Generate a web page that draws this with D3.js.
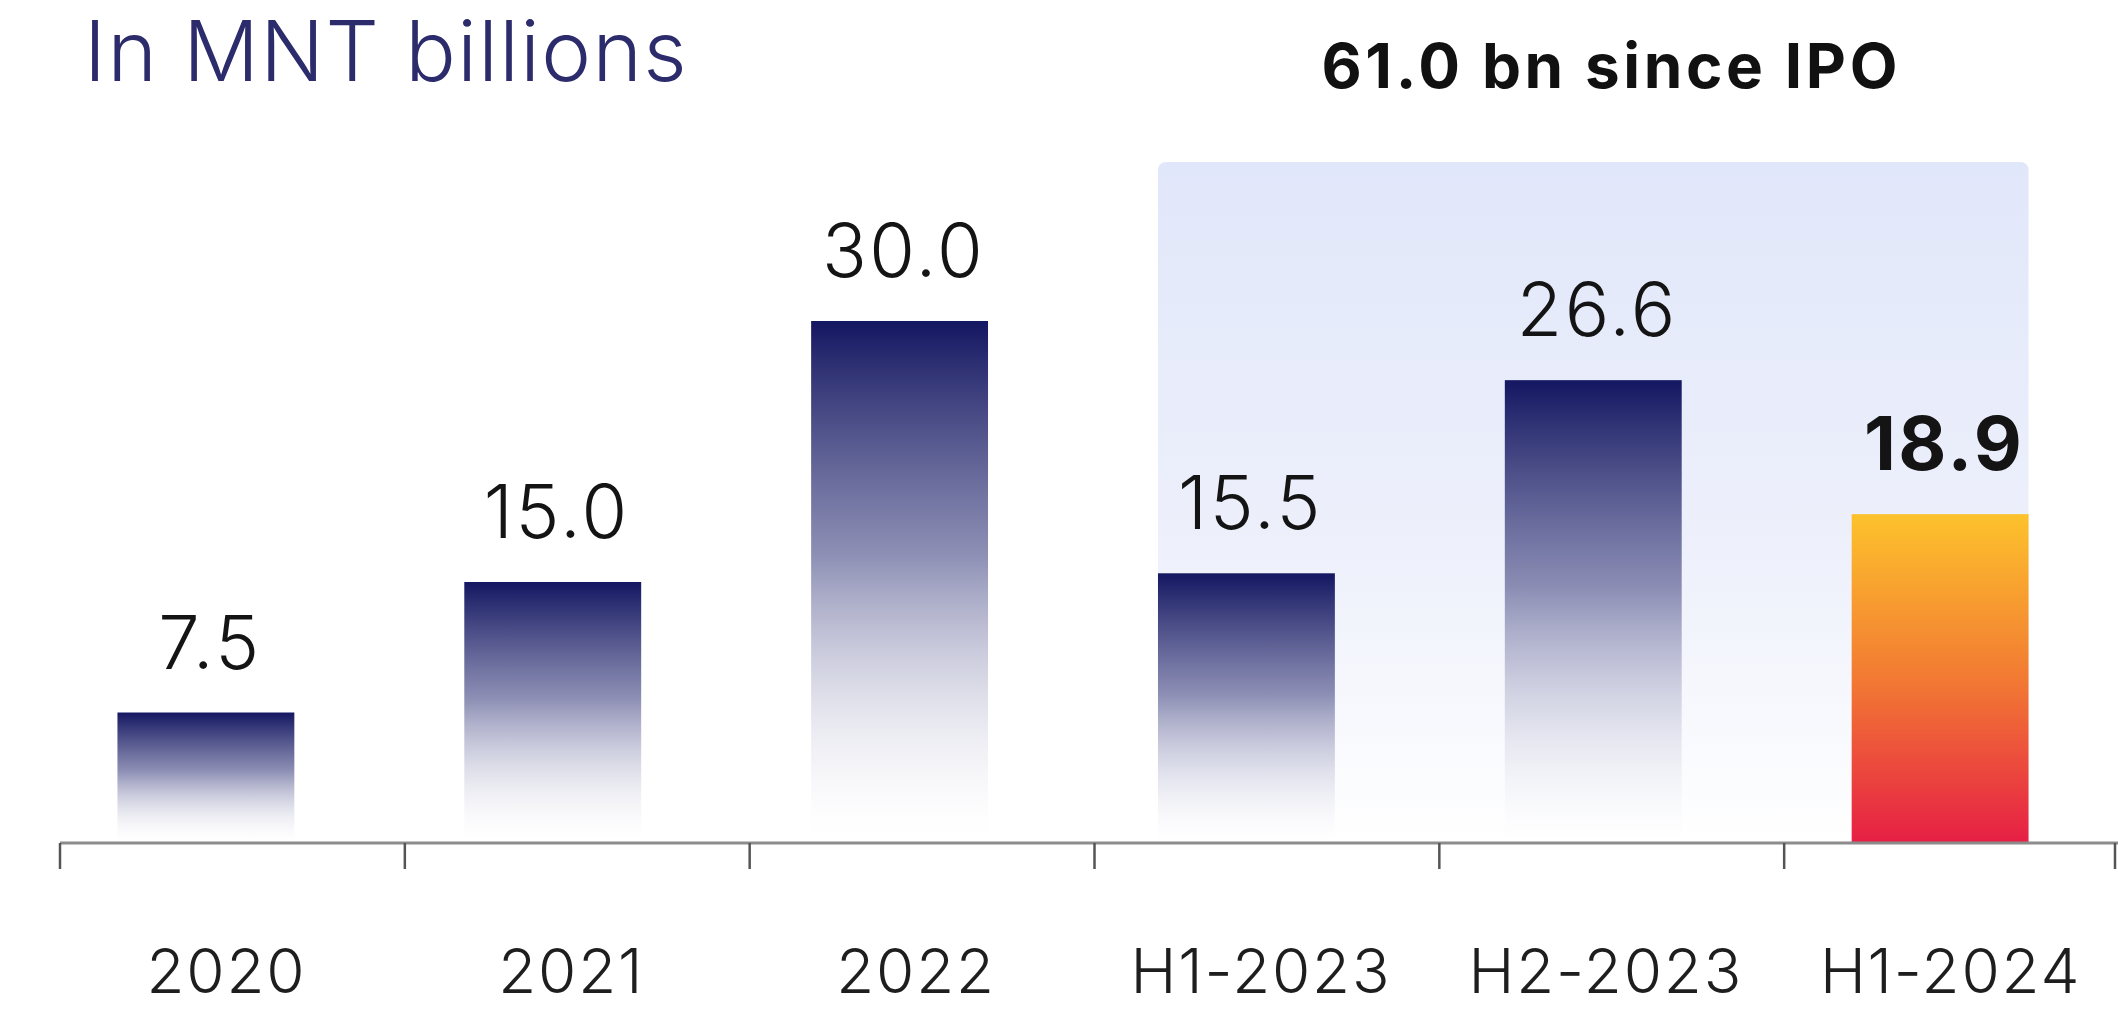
<!DOCTYPE html>
<html>
<head>
<meta charset="utf-8">
<script src="https://cdn.jsdelivr.net/npm/d3@7/dist/d3.min.js"></script>
<style>
    body { margin: 0; background: #ffffff; }
    svg { display: block; font-family: Inter, "Noto Sans", sans-serif; }
</style>
</head>
<body>
<svg id="mainSvg" width="2118" height="1014"></svg>
<script>
let svg = d3.select('#mainSvg');
let width = +svg.attr('width'), height = +svg.attr('height');

// data
const categories = ["2020", "2021", "2022", "H1-2023", "H2-2023", "H1-2024"];
const values = [7.5, 15.0, 30.0, 15.5, 26.6, 18.9];
const labels = ["7.5", "15.0", "30.0", "15.5", "26.6", "18.9"];
const highlighted = ["H1-2024"];
const sinceIpo = ["H1-2023", "H1-2024"];   // first and last period in the shaded box
const titleText = "In MNT billions";
const ipoText = "61.0 bn since IPO";

const baseY = 843;

const x = d3.scaleBand()          // bars
    .domain(categories)
    .range([29, 2117])
    .paddingInner(0.49)
    .paddingOuter(0.255);

const xAxisScale = d3.scaleBand() // axis ticks and labels
    .domain(categories)
    .range([60, 2129]);

const y = d3.scaleLinear()
    .domain([0, 30])
    .range([baseY, 321]);

/**
 * gradients
 */
const defs = svg.append("defs");
const navy = defs.append("linearGradient")
    .attr("id", "navyGrad")
    .attr("x1", 0).attr("y1", 0).attr("x2", 0).attr("y2", 1);
navy.append("stop").attr("offset", "0%").attr("stop-color", "#141761").attr("stop-opacity", 1);
navy.append("stop").attr("offset", "45%").attr("stop-color", "#7a7ca8").attr("stop-opacity", 0.85);
navy.append("stop").attr("offset", "100%").attr("stop-color", "#ffffff").attr("stop-opacity", 0.1);

const orange = defs.append("linearGradient")
    .attr("id", "orangeGrad")
    .attr("x1", 0).attr("y1", 0).attr("x2", 0).attr("y2", 1);
orange.append("stop").attr("offset", "0%").attr("stop-color", "#fdc22c");
orange.append("stop").attr("offset", "50%").attr("stop-color", "#f27a33");
orange.append("stop").attr("offset", "100%").attr("stop-color", "#e61f45");

const shade = defs.append("linearGradient")
    .attr("id", "shadeGrad")
    .attr("x1", 0).attr("y1", 0).attr("x2", 0).attr("y2", 1);
shade.append("stop").attr("offset", "0%").attr("stop-color", "#e1e7fa");
shade.append("stop").attr("offset", "55%").attr("stop-color", "#edf0fb");
shade.append("stop").attr("offset", "100%").attr("stop-color", "#ffffff");

// shaded box behind the periods since IPO
const boxX0 = x(sinceIpo[0]), boxX1 = x(sinceIpo[1]) + x.bandwidth();
svg.append("rect")
    .attr("x", boxX0)
    .attr("y", 162)
    .attr("width", boxX1 - boxX0)
    .attr("height", baseY - 162)
    .attr("rx", 8)
    .attr("fill", "url(#shadeGrad)");

// title
svg.append("text")
    .text(titleText)
    .attr("x", 84)
    .attr("y", 81)
    .attr("font-size", 84)
    .attr("font-weight", 300)
    .attr("letter-spacing", 1.4)
    .attr("fill", "#2c2b6c");

svg.append("text")
    .text(ipoText)
    .attr("x", (boxX0 + boxX1) / 2 + 18)
    .attr("y", 88)
    .attr("text-anchor", "middle")
    .attr("font-size", 62)
    .attr("font-weight", 700)
    .attr("letter-spacing", 3.6)
    .attr("fill", "#111111");

// bars
svg.selectAll("rect.bar").data(categories).join("rect")
    .attr("class", "bar")
    .attr("x", d => x(d))
    .attr("y", (d, i) => y(values[i]))
    .attr("width", x.bandwidth())
    .attr("height", (d, i) => baseY - y(values[i]))
    .attr("fill", d => highlighted.includes(d) ? "url(#orangeGrad)" : "url(#navyGrad)");

// value labels
svg.selectAll("text.value").data(categories).join("text")
    .attr("class", "value")
    .text((d, i) => labels[i])
    .attr("x", d => x(d) + x.bandwidth() / 2 + 4)
    .attr("y", (d, i) => y(values[i]) - 44)
    .attr("text-anchor", "middle")
    .attr("font-size", 74)
    .attr("font-weight", d => highlighted.includes(d) ? 700 : 300)
    .attr("letter-spacing", 2.5)
    .attr("fill", "#141414");

// x axis
const axis = svg.append("g")
    .attr("transform", `translate(0,${baseY})`);
axis.append("line")
    .attr("x1", 60).attr("x2", width)
    .attr("y1", 0).attr("y2", 0)
    .attr("stroke", "#8c8c8c")
    .attr("stroke-width", 3);
// last tick sits on the right edge of the picture
const tickPos = categories.map(d => xAxisScale(d)).concat([width - 3]);
axis.selectAll("line.tick").data(tickPos).join("line")
    .attr("class", "tick")
    .attr("x1", d => d).attr("x2", d => d)
    .attr("y1", 0).attr("y2", 26)
    .attr("stroke", "#555555")
    .attr("stroke-width", 2.5);
axis.selectAll("text").data(categories).join("text")
    .text(d => d)
    .attr("x", d => xAxisScale(d) + xAxisScale.bandwidth() / 2 - 6)
    .attr("y", 993 - baseY)
    .attr("text-anchor", "middle")
    .attr("font-size", 62)
    .attr("font-weight", 300)
    .attr("letter-spacing", 1.8)
    .attr("fill", "#1e1e1e");
</script>
</body>
</html>
